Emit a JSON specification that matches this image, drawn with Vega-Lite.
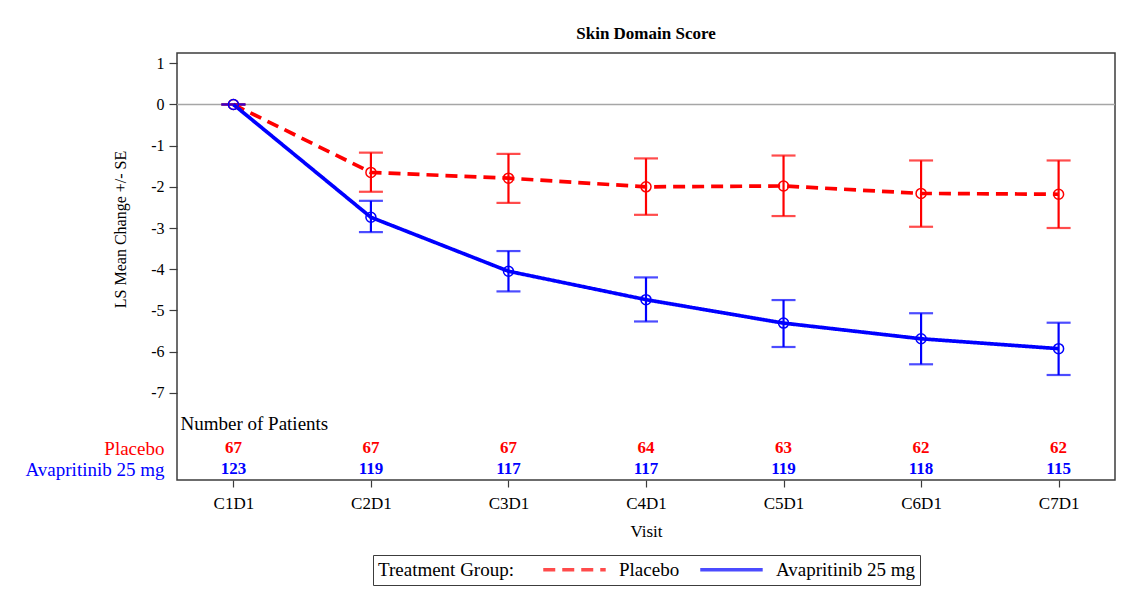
{
  "$schema": "https://vega.github.io/schema/vega-lite/v6.json",
  "width": 938,
  "height": 427,
  "padding": {"left": 25, "top": 25, "right": 10, "bottom": 5},
  "background": "white",
  "title": {
    "text": "Skin Domain Score",
    "font": "Liberation Serif",
    "fontSize": 17,
    "fontWeight": "bold",
    "color": "black",
    "anchor": "middle",
    "offset": 10
  },
  "data": {
    "values": [
      {"visit": "C1D1", "group": "Placebo", "mean": 0, "upper": 0, "lower": 0, "n": 67},
      {"visit": "C2D1", "group": "Placebo", "mean": -1.65, "upper": -1.17, "lower": -2.12, "n": 67},
      {"visit": "C3D1", "group": "Placebo", "mean": -1.79, "upper": -1.2, "lower": -2.39, "n": 67},
      {"visit": "C4D1", "group": "Placebo", "mean": -2.0, "upper": -1.31, "lower": -2.68, "n": 64},
      {"visit": "C5D1", "group": "Placebo", "mean": -1.98, "upper": -1.24, "lower": -2.71, "n": 63},
      {"visit": "C6D1", "group": "Placebo", "mean": -2.16, "upper": -1.36, "lower": -2.97, "n": 62},
      {"visit": "C7D1", "group": "Placebo", "mean": -2.18, "upper": -1.36, "lower": -3.0, "n": 62},
      {"visit": "C1D1", "group": "Avapritinib 25 mg", "mean": 0, "upper": 0, "lower": 0, "n": 123},
      {"visit": "C2D1", "group": "Avapritinib 25 mg", "mean": -2.74, "upper": -2.34, "lower": -3.1, "n": 119},
      {"visit": "C3D1", "group": "Avapritinib 25 mg", "mean": -4.05, "upper": -3.56, "lower": -4.54, "n": 117},
      {"visit": "C4D1", "group": "Avapritinib 25 mg", "mean": -4.74, "upper": -4.2, "lower": -5.27, "n": 117},
      {"visit": "C5D1", "group": "Avapritinib 25 mg", "mean": -5.31, "upper": -4.75, "lower": -5.89, "n": 119},
      {"visit": "C6D1", "group": "Avapritinib 25 mg", "mean": -5.69, "upper": -5.07, "lower": -6.31, "n": 118},
      {"visit": "C7D1", "group": "Avapritinib 25 mg", "mean": -5.93, "upper": -5.3, "lower": -6.57, "n": 115}
    ]
  },
  "layer": [
    {
      "encoding": {
        "y": {
          "type": "quantitative",
          "scale": {"domain": [-9.12, 1.25], "nice": false, "zero": false},
          "axis": {
            "title": "LS Mean Change +/- SE",
            "values": [-7, -6, -5, -4, -3, -2, -1, 0, 1],
            "labelExpr": "toString(datum.value)",
            "grid": false,
            "domain": false,
            "tickSize": 8,
            "labelPadding": 5,
            "labelFontSize": 16,
            "titleFontSize": 16,
            "titleY": 176,
            "titlePadding": 22
          }
        }
      },
      "layer": [
        {
          "data": {"values": [{"ref": 0}]},
          "mark": {"type": "rule", "color": "#a6a6a6", "strokeWidth": 1.5},
          "encoding": {"y": {"field": "ref", "type": "quantitative"}}
        },
        {
          "mark": {"type": "errorbar", "ticks": {"size": 24, "thickness": 2.2}, "rule": {"strokeWidth": 2.2}},
          "encoding": {
            "x": {"field": "visit", "type": "ordinal", "sort": null, "title": "Visit", "scale": {"type": "point", "padding": 0.41}},
            "y": {"field": "upper", "type": "quantitative", "title": "LS Mean Change +/- SE"},
            "y2": {"field": "lower"},
            "color": {"field": "group", "type": "nominal", "sort": null}
          }
        },
        {
          "mark": {"type": "line", "strokeWidth": 3.7},
          "encoding": {
            "x": {"field": "visit", "type": "ordinal", "sort": null, "title": "Visit", "scale": {"type": "point", "padding": 0.41}},
            "y": {"field": "mean", "type": "quantitative"},
            "color": {
              "field": "group",
              "type": "nominal",
              "sort": null,
              "scale": {"domain": ["Placebo", "Avapritinib 25 mg"], "range": ["#ff0000", "#0000ff"]},
              "legend": {"title": "Treatment Group:"}
            },
            "strokeDash": {
              "field": "group",
              "type": "nominal",
              "sort": null,
              "scale": {"domain": ["Placebo", "Avapritinib 25 mg"], "range": [[12, 7], [1, 0]]},
              "legend": {"title": "Treatment Group:"}
            }
          }
        },
        {
          "mark": {"type": "point", "shape": "circle", "filled": false, "size": 100, "strokeWidth": 1.5, "opacity": 1},
          "encoding": {
            "x": {"field": "visit", "type": "ordinal", "sort": null, "title": "Visit", "scale": {"type": "point", "padding": 0.41}},
            "y": {"field": "mean", "type": "quantitative"},
            "color": {"field": "group", "type": "nominal", "sort": null}
          }
        }
      ]
    },
    {
      "mark": {"type": "text", "font": "Liberation Serif", "fontSize": 17, "fontWeight": "bold", "baseline": "middle"},
      "encoding": {
        "x": {"field": "visit", "type": "ordinal", "sort": null, "title": "Visit", "scale": {"type": "point", "padding": 0.41}},
        "y": {
          "field": "group",
          "type": "ordinal",
          "scale": {"type": "point", "domain": ["Placebo", "Avapritinib 25 mg"], "range": [395, 416], "padding": 0},
          "axis": {
            "orient": "left",
            "title": "Number of Patients",
            "titleAngle": 0,
            "titleAlign": "left",
            "titleBaseline": "middle",
            "titleX": 3,
            "titleY": 370,
            "titleFontSize": 19,
            "ticks": false,
            "tickSize": 0,
            "domain": false,
            "grid": false,
            "labelPadding": 13,
            "labelFontSize": 19,
            "labelColor": {"condition": {"test": "datum.value == 'Placebo'", "value": "#ff0000"}, "value": "#0000ff"}
          }
        },
        "text": {"field": "n", "type": "quantitative"},
        "color": {"condition": {"test": "datum.group == 'Placebo'", "value": "#ff0000"}, "value": "#0000ff"}
      }
    }
  ],
  "resolve": {"scale": {"y": "independent"}, "axis": {"y": "independent"}},
  "config": {
    "font": "Liberation Serif",
    "view": {"stroke": "#3c3c3c", "strokeWidth": 1.5},
    "axis": {
      "labelFont": "Liberation Serif",
      "titleFont": "Liberation Serif",
      "labelColor": "black",
      "titleColor": "black",
      "titleFontWeight": "normal",
      "tickColor": "#3c3c3c",
      "tickWidth": 1.2
    },
    "axisX": {
      "labelAngle": 0,
      "labelFontSize": 17,
      "titleFontSize": 17,
      "tickSize": 7,
      "labelPadding": 8,
      "titlePadding": 12,
      "domain": false,
      "grid": false
    },
    "legend": {
      "orient": "bottom",
      "direction": "horizontal",
      "titleOrient": "left",
      "titleFont": "Liberation Serif",
      "labelFont": "Liberation Serif",
      "titleFontSize": 19,
      "labelFontSize": 19,
      "titleFontWeight": "normal",
      "titleColor": "black",
      "labelColor": "black",
      "titleBaseline": "middle",
      "titlePadding": 26,
      "symbolType": "M-1,0H9",
      "symbolSize": 156,
      "symbolStrokeWidth": 3.5,
      "labelOffset": 60,
      "columnPadding": 13,
      "strokeColor": "#3c3c3c",
      "padding": 5,
      "offset": 16,
      "layout": {"bottom": {"anchor": "middle"}}
    }
  }
}
